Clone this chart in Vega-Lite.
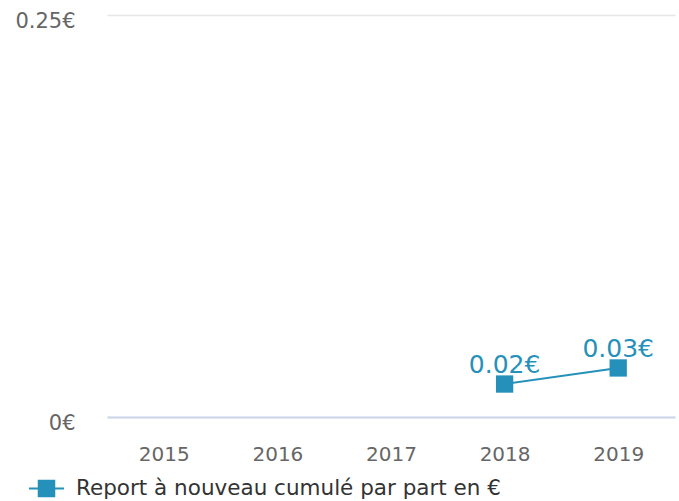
{
  "$schema": "https://vega.github.io/schema/vega-lite/v6.json",
  "autosize": "none",
  "width": 568,
  "height": 402,
  "padding": {"left": 107, "top": 15, "right": 4, "bottom": 84},
  "background": "white",
  "config": {
    "font": "DejaVu Sans",
    "view": {"stroke": null}
  },
  "data": {
    "values": [
      {"annee": "2018", "valeur": 0.0205, "label": "0.02€", "serie": "Report à nouveau cumulé par part en €"},
      {"annee": "2019", "valeur": 0.0305, "label": "0.03€", "serie": "Report à nouveau cumulé par part en €"}
    ]
  },
  "encoding": {
    "x": {
      "field": "annee",
      "type": "ordinal",
      "scale": {"type": "point", "domain": ["2015", "2016", "2017", "2018", "2019"], "padding": 0.5},
      "axis": {
        "title": null,
        "labelAngle": 0,
        "ticks": false,
        "domainColor": "#ccd6eb",
        "domainWidth": 2,
        "labelColor": "#666666",
        "labelFontSize": 20,
        "labelBaseline": "top",
        "labelPadding": 27,
        "grid": false
      }
    },
    "y": {
      "field": "valeur",
      "type": "quantitative",
      "scale": {"domain": [0, 0.25], "nice": false},
      "axis": {
        "title": null,
        "values": [0, 0.25],
        "labelExpr": "datum.value == 0 ? '0€' : format(datum.value, '.2f') + '€'",
        "ticks": false,
        "domain": false,
        "gridColor": "#e6e6e6",
        "gridWidth": 1.5,
        "labelColor": "#666666",
        "labelFontSize": 21,
        "labelPadding": 32,
        "labelOffset": 6
      }
    }
  },
  "layer": [
    {
      "mark": {"type": "line", "color": "#2591ba", "strokeWidth": 2}
    },
    {
      "mark": {"type": "point", "shape": "square", "filled": true, "size": 300, "opacity": 1},
      "encoding": {
        "color": {
          "field": "serie",
          "type": "nominal",
          "scale": {"range": ["#2591ba"]},
          "legend": {
            "title": null,
            "orient": "none",
            "legendX": -78,
            "legendY": 456,
            "symbolType": "M-1,-0.06H1V0.06H-1Z M-0.5,-0.5H0.5V0.5H-0.5Z",
            "symbolSize": 1225,
            "symbolStrokeWidth": 0,
            "symbolOpacity": 1,
            "labelFontSize": 21.5,
            "labelLimit": 0,
            "labelColor": "#333333",
            "labelOffset": 12
          }
        }
      }
    },
    {
      "mark": {"type": "text", "dy": -11, "baseline": "alphabetic", "fontSize": 25, "color": "#2591ba"},
      "encoding": {"text": {"field": "label"}}
    }
  ]
}
